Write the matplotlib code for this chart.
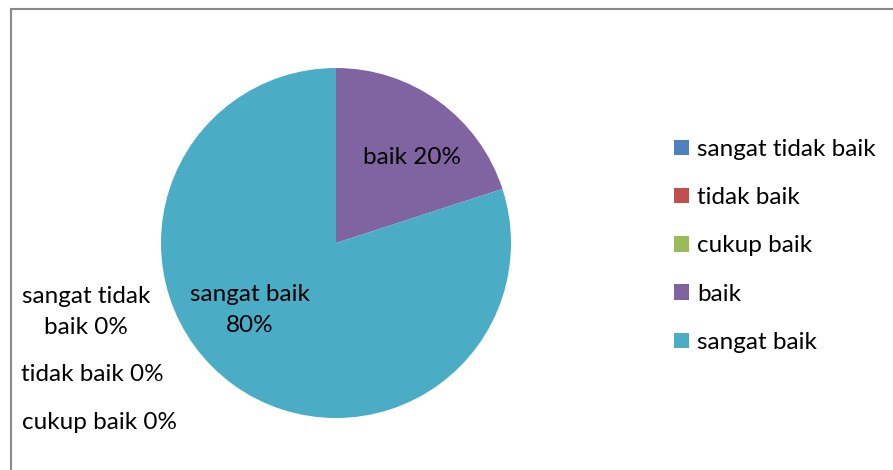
import matplotlib.pyplot as plt
from matplotlib.patches import Patch, Rectangle

plt.rcParams['font.family'] = ['Lato', 'DejaVu Sans']

categories = ['sangat tidak baik', 'tidak baik', 'cukup baik', 'baik', 'sangat baik']
values = [0, 0, 0, 20, 80]
colors = ['#4F81BD', '#C0504D', '#9BBB59', '#8064A2', '#4BACC6']

# label text (line breaks as in the original) and where it sits
label_text = ['sangat tidak\nbaik', 'tidak baik', 'cukup baik', 'baik', 'sangat baik\n']
label_pos = [(-1.429, -0.394), (-1.394, -0.754), (-1.349, -1.023),
             (0.434, 0.491), (-0.491, -0.383)]

W, H = 893, 470
fig = plt.figure(figsize=(W / 100, H / 100), dpi=100)

# outer chart frame
fig.patches.append(Rectangle((11 / W, -0.1), 1.1, (H - 9) / H + 0.1,
                             transform=fig.transFigure, fill=False,
                             edgecolor='#8a8a8a', linewidth=1.5))

ax = fig.add_axes([161 / W, 52 / H, 350 / W, 350 / H])
ax.pie(values, colors=colors, startangle=90, counterclock=False, radius=1,
       wedgeprops=dict(linewidth=0))
ax.set_xlim(-1, 1)
ax.set_ylim(-1, 1)
ax.set_aspect('equal')
ax.axis('off')

fs = 17.5
for txt, v, (x, y) in zip(label_text, values, label_pos):
    sep = '' if txt.endswith('\n') else ' '
    ax.text(x, y, f'{txt}{sep}{v}%', ha='center', va='center', fontsize=fs,
            linespacing=1.6)

handles = [Patch(facecolor=c, edgecolor='none') for c in colors]
fig.legend(handles, categories, loc='center left', bbox_to_anchor=(674 / W, (H - 246) / H),
           frameon=False, fontsize=fs, handlelength=0.6, handleheight=0.6,
           handletextpad=0.35, labelspacing=1.12, borderpad=0, borderaxespad=0)

fig.savefig('out.png', dpi=100)
